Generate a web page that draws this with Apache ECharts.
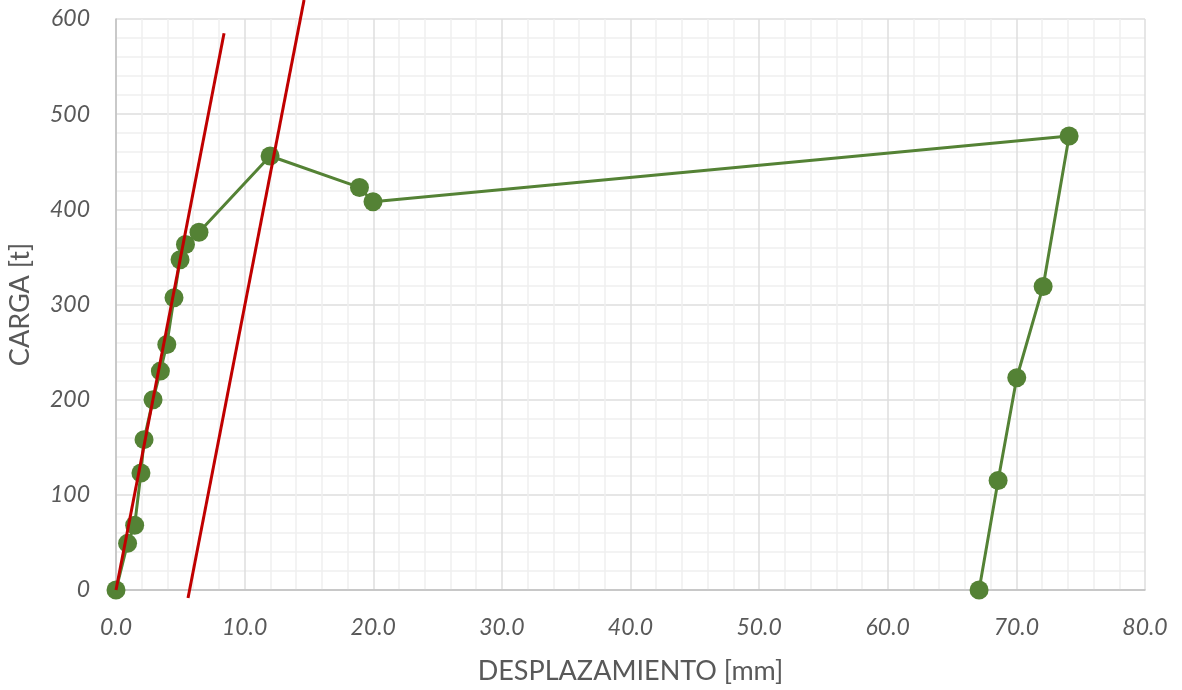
<!DOCTYPE html>
<html>
<head>
<meta charset="utf-8">
<script src="https://cdn.jsdelivr.net/npm/echarts@6/dist/echarts.min.js"></script>
<style>
html,body{margin:0;padding:0;background:#fff;}
#chart{width:1182px;height:690px;}
</style>
</head>
<body>
<div id="chart"></div>
<script>
// Load test curve (desplazamiento mm, carga t)
const desplazamiento = [0.0, 0.9, 1.45, 1.94, 2.18, 2.88, 3.45, 3.95, 4.51, 4.98, 5.4, 6.45, 11.98, 18.93, 19.98, 74.1, 72.08, 70.03, 68.58, 67.1];
const carga = [0, 49, 68, 123, 158, 200, 230, 258, 307, 347, 363, 376, 456, 423, 408, 477, 319, 223, 115, 0];
// Red reference lines (x, y endpoints)
const linea1X = [0.0, 8.4];
const linea1Y = [0, 585];
const linea2X = [5.6, 14.62];
const linea2Y = [-8.4, 620];
const xTicks = [0, 10, 20, 30, 40, 50, 60, 70, 80];
const yTicks = [0, 100, 200, 300, 400, 500, 600];

const pairs = (xs, ys) => xs.map((x, i) => [x, ys[i]]);

const chart = echarts.init(document.getElementById('chart'));
const labelFont = {color: '#595959', fontSize: 23, fontStyle: 'italic', fontFamily: 'Lato'};
chart.setOption({
  animation: false,
  backgroundColor: '#fff',
  grid: {left: 116, right: 37, top: 19, bottom: 100, containLabel: false, outerBoundsMode: 'none'},
  xAxis: {
    type: 'value', min: xTicks[0], max: xTicks[xTicks.length - 1], interval: 10,
    name: 'DESPLAZAMIENTO [mm]', nameLocation: 'middle', nameGap: 68,
    nameTextStyle: {color: '#595959', fontSize: 27, fontFamily: 'Lato'},
    axisLine: {show: true, lineStyle: {color: '#bfbfbf', width: 1.5}},
    axisTick: {show: false},
    axisLabel: Object.assign({margin: 26, formatter: v => v.toFixed(1)}, labelFont),
    splitLine: {show: true, lineStyle: {color: '#dedede', width: 1.5}},
    minorTick: {show: false, splitNumber: 5},
    minorSplitLine: {show: true, lineStyle: {color: '#efefef', width: 1.5}}
  },
  yAxis: {
    type: 'value', min: yTicks[0], max: yTicks[yTicks.length - 1], interval: 100,
    name: 'CARGA [t]', nameLocation: 'middle', nameGap: 82, nameRotate: 90,
    nameTextStyle: {color: '#595959', fontSize: 27, fontFamily: 'Lato'},
    axisLine: {show: true, lineStyle: {color: '#bfbfbf', width: 1.5}},
    axisTick: {show: false},
    axisLabel: Object.assign({margin: 26}, labelFont),
    splitLine: {show: true, lineStyle: {color: '#dedede', width: 1.5}},
    minorTick: {show: false, splitNumber: 5},
    minorSplitLine: {show: true, lineStyle: {color: '#efefef', width: 1.5}}
  },
  series: [
    {
      type: 'line', data: pairs(desplazamiento, carga),
      lineStyle: {color: '#548235', width: 3},
      itemStyle: {color: '#548235'},
      symbol: 'circle', symbolSize: 19, showSymbol: true, z: 2
    },
    {
      type: 'line', data: pairs(linea1X, linea1Y), clip: false,
      lineStyle: {color: '#c00000', width: 3}, showSymbol: false, symbol: 'none', z: 3
    },
    {
      type: 'line', data: pairs(linea2X, linea2Y), clip: false,
      lineStyle: {color: '#c00000', width: 3}, showSymbol: false, symbol: 'none', z: 3
    }
  ]
});
</script>
</body>
</html>
